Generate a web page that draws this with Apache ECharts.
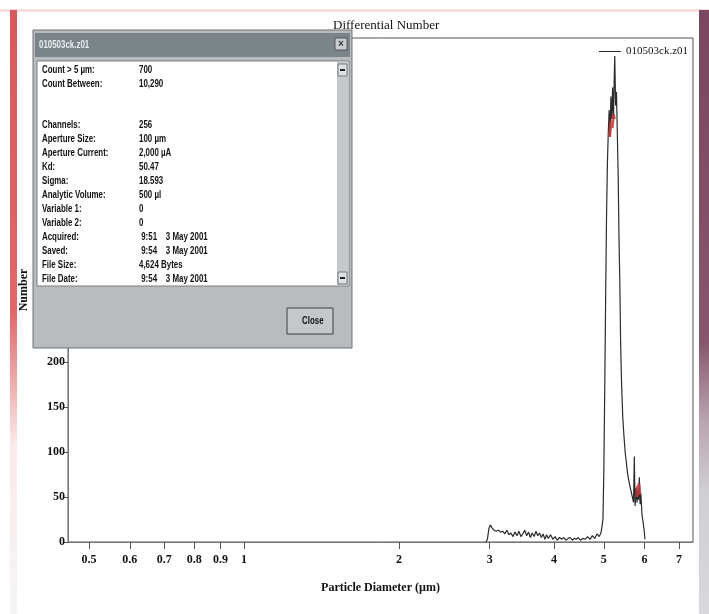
<!DOCTYPE html>
<html>
<head>
<meta charset="utf-8">
<script src="https://cdn.jsdelivr.net/npm/echarts@6/dist/echarts.min.js"></script>
<style>
  html, body { margin: 0; padding: 0; background: #fff; }
  #echarts_main { width: 709px; height: 614px; }
</style>
</head>
<body>
<div id="echarts_main"></div>
<script>
// particle diameter (um) and differential number
var diameters = [2.95, 2.97, 2.99, 3.01, 3.03, 3.06, 3.09, 3.12, 3.15, 3.18, 3.21, 3.24, 3.27, 3.30, 3.33, 3.36, 3.39, 3.42, 3.45, 3.48,
    3.51, 3.54, 3.57, 3.60, 3.63, 3.66, 3.69, 3.72, 3.75, 3.78, 3.81, 3.84, 3.87, 3.90, 3.94, 3.98, 4.02, 4.06, 4.10, 4.14,
    4.18, 4.22, 4.26, 4.30, 4.34, 4.38, 4.42, 4.46, 4.50, 4.55, 4.60, 4.65, 4.70, 4.75, 4.80, 4.85, 4.90, 4.94, 4.98, 5.00,
    5.02, 5.04, 5.06, 5.08, 5.10, 5.12, 5.14, 5.16, 5.18, 5.20, 5.22, 5.24, 5.25, 5.27, 5.29, 5.31, 5.33, 5.35, 5.37, 5.39,
    5.41, 5.44, 5.47, 5.50, 5.53, 5.56, 5.60, 5.64, 5.68, 5.71, 5.73, 5.75, 5.78, 5.80, 5.82, 5.84, 5.86, 5.88, 5.90, 5.93,
    5.96, 5.99, 6.01];
var counts = [0, 3, 15, 19, 16, 13, 12, 13, 11, 12, 9, 13, 8, 10, 6, 11, 7, 12, 6, 9,
    13, 7, 11, 5, 10, 6, 12, 7, 10, 5, 9, 3, 8, 4, 8, 3, 6, 2, 5, 3,
    5, 2, 4, 5, 2, 4, 3, 5, 2, 4, 3, 6, 3, 7, 4, 9, 6, 11, 25, 80,
    170, 270, 360, 420, 455, 480, 450, 495, 470, 505, 470, 520, 540, 485, 500, 455, 410, 340, 290, 220,
    180, 140, 118, 100, 88, 76, 66, 58, 50, 44, 95, 40, 60, 44, 58, 47, 72, 42, 54, 30,
    22, 12, 3];

// red highlighted stretches of the trace
var redDiameters = [5.13, 5.16, 5.19, 5.22, 5.24, 5.70, 5.79, 5.81, 5.83, 5.85, 5.87];
var redCounts = [450, 468, 460, 475, 470, null, 50, 62, 55, 65, 52];

var xTicks = [0.5, 0.6, 0.7, 0.8, 0.9, 1, 2, 3, 4, 5, 6, 7];

var dlgLabels = ['Count > 5 µm:', 'Count Between:', '', '', 'Channels:', 'Aperture Size:', 'Aperture Current:', 'Kd:', 'Sigma:',
    'Analytic Volume:', 'Variable 1:', 'Variable 2:', 'Acquired:', 'Saved:', 'File Size:', 'File Date:'];
var dlgValues = ['700', '10,290', '', '', '256', '100 µm', '2,000 µA', '50.47', '18.593',
    '500 µl', '0', '0', ' 9:51    3 May 2001', ' 9:54    3 May 2001', '4,624 Bytes', ' 9:54    3 May 2001'];
var dlgRowsY = [70, 84, 98, 111, 125, 139, 153, 167, 181, 195, 209, 223, 237, 251, 265, 279];

var fileName = '010503ck.z01';

function pairs(xs, ys) {
    return xs.map(function (x, i) { return [x, ys[i]]; });
}

var myChart = echarts.init(document.getElementById('echarts_main'));

var serifFont = '"Liberation Serif", "DejaVu Serif", serif';
var dlgFont = '"Liberation Sans", Arial, sans-serif';

// squeezed text, the screenshot is narrow
function dlgText(x, y, text, extra) {
    var style = { text: text, fill: '#111', font: 'bold 11px ' + dlgFont, verticalAlign: 'middle' };
    for (var k in extra) style[k] = extra[k];
    return { type: 'text', x: x, y: y, scaleX: 0.72, style: style };
}

var dialog = [
    { type: 'rect', shape: { x: 33, y: 30, width: 319, height: 318 }, style: { fill: '#b8bcbf', stroke: '#6c7174', lineWidth: 1 } },
    { type: 'rect', shape: { x: 35, y: 33, width: 315, height: 24 }, style: { fill: '#7b8589' } },
    dlgText(39, 45, fileName, { fill: '#e9edef' }),
    { type: 'rect', shape: { x: 335, y: 38, width: 12, height: 12 }, style: { fill: '#c9cdd0', stroke: '#555', lineWidth: 1 } },
    { type: 'text', x: 341, y: 44, style: { text: '×', fill: '#333', font: 'bold 10px sans-serif', align: 'center', verticalAlign: 'middle' } },
    { type: 'rect', shape: { x: 37, y: 61, width: 312, height: 225 }, style: { fill: '#ffffff', stroke: '#7a7f82', lineWidth: 1 } },
    { type: 'rect', shape: { x: 337, y: 62, width: 11, height: 223 }, style: { fill: '#c6c9cb' } },
    { type: 'rect', shape: { x: 338, y: 64, width: 9, height: 12 }, style: { fill: '#dfe2e4', stroke: '#777', lineWidth: 1 } },
    { type: 'rect', shape: { x: 340, y: 69, width: 5, height: 2 }, style: { fill: '#222' } },
    { type: 'rect', shape: { x: 338, y: 272, width: 9, height: 12 }, style: { fill: '#dfe2e4', stroke: '#777', lineWidth: 1 } },
    { type: 'rect', shape: { x: 340, y: 277, width: 5, height: 2 }, style: { fill: '#222' } },
    { type: 'rect', shape: { x: 287, y: 308, width: 46, height: 26 }, style: { fill: '#c4c8ca', stroke: '#3c3c3c', lineWidth: 1 } },
    dlgText(302, 321, 'Close', {})
];
dlgLabels.forEach(function (lab, i) {
    dialog.push(dlgText(42, dlgRowsY[i], lab, {}));
    dialog.push(dlgText(139, dlgRowsY[i], dlgValues[i], {}));
});
dialog.forEach(function (el) { el.z = 100; });

var frame = [
    { type: 'rect', shape: { x: 0, y: 9, width: 709, height: 3 }, style: { fill: '#f6dede' } },
    { type: 'rect', shape: { x: 10, y: 10, width: 7, height: 604 },
      style: { fill: new echarts.graphic.LinearGradient(0, 0, 0, 1, [
          { offset: 0, color: '#d65a5c' }, { offset: 0.5, color: '#e06868' },
          { offset: 0.6, color: '#eca2a2' }, { offset: 0.72, color: '#fbeaea' }, { offset: 1, color: '#f5f5f5' }]) } },
    { type: 'rect', shape: { x: 699, y: 10, width: 10, height: 604 },
      style: { fill: new echarts.graphic.LinearGradient(0, 0, 0, 1, [
          { offset: 0, color: '#7a4660' }, { offset: 0.55, color: '#86576c' },
          { offset: 0.68, color: '#b9a4b0' }, { offset: 0.8, color: '#d0d0d4' }, { offset: 1, color: '#d8d8dc' }]) } }
];
frame.forEach(function (el) { el.z = 90; });

var option = {
    backgroundColor: '#fff',
    animation: false,
    title: {
        text: 'Differential Number',
        left: 328,
        top: 14,
        textStyle: { fontFamily: serifFont, fontSize: 13, fontWeight: 'normal', color: '#111' }
    },
    legend: {
        data: [fileName],
        left: 594,
        top: 41,
        icon: 'rect',
        itemWidth: 22,
        itemHeight: 1,
        itemGap: 4,
        textStyle: { fontFamily: serifFont, fontSize: 11, color: '#111', padding: [0, 0, 0, 0] }
    },
    grid: {
        left: 68,
        right: 16,
        top: 38,
        bottom: 72,
        show: true,
        borderColor: '#555',
        borderWidth: 1
    },
    xAxis: {
        type: 'log',
        logBase: 10,
        min: 0.455,
        max: 7.45,
        name: 'Particle Diameter (µm)',
        nameLocation: 'middle',
        nameGap: 40,
        nameTextStyle: { fontFamily: serifFont, fontSize: 12, fontWeight: 'bold', color: '#111' },
        axisLine: { lineStyle: { color: '#777' } },
        axisTick: { show: true, length: 7, lineStyle: { color: '#555' }, customValues: xTicks },
        axisLabel: {
            customValues: xTicks,
            margin: 12,
            fontFamily: serifFont,
            fontSize: 12,
            fontWeight: 'bold',
            color: '#111',
            formatter: function (v) { return String(v); }
        },
        splitLine: { show: false },
        minorTick: { show: false }
    },
    yAxis: {
        type: 'value',
        min: 0,
        max: 560,
        interval: 50,
        name: 'Number',
        nameLocation: 'middle',
        nameGap: 38,
        nameTextStyle: { fontFamily: serifFont, fontSize: 12, fontWeight: 'bold', color: '#111' },
        axisLine: { show: true, lineStyle: { color: '#777' } },
        axisTick: { show: true, length: 5, lineStyle: { color: '#555' } },
        axisLabel: {
            margin: 3,
            fontFamily: serifFont,
            fontSize: 12,
            fontWeight: 'bold',
            color: '#111',
            showMaxLabel: false
        },
        splitLine: { show: false }
    },
    series: [
        {
            name: fileName,
            type: 'line',
            data: pairs(diameters, counts),
            symbol: 'none',
            lineStyle: { color: '#2b2b2b', width: 1.2 },
            itemStyle: { color: '#2b2b2b' },
            silent: true
        },
        {
            name: 'highlight',
            type: 'line',
            data: pairs(redDiameters, redCounts),
            symbol: 'none',
            connectNulls: false,
            lineStyle: { color: '#c0393b', width: 3, opacity: 0.85 },
            silent: true
        }
    ],
    graphic: { elements: frame.concat(dialog) }
};

myChart.setOption(option);
</script>
</body>
</html>
